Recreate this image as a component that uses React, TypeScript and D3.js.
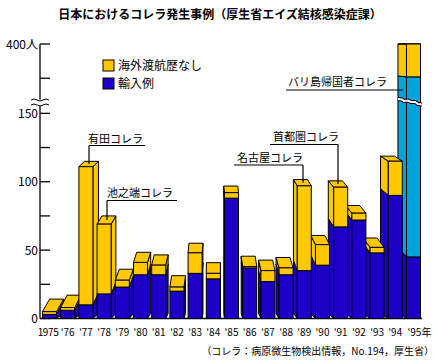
import React from 'react';
import * as d3 from 'd3';

const W = 439;
const H = 360;

// 年（横軸）
const years = [
  '1975', "'76", "'77", "'78", "'79", "'80", "'81", "'82", "'83", "'84",
  "'85", "'86", "'87", "'88", "'89", "'90", "'91", "'92", "'93", "'94", "'95",
];
// 輸入例
const imported = [3, 6, 10, 18, 23, 32, 32, 20, 33, 29, 88, 37, 27, 32, 35, 39, 67, 72, 48, 90, 45];
// バリ島帰国者
const baliReturn = [0, 0, 0, 0, 0, 0, 0, 0, 0, 0, 0, 0, 0, 0, 0, 0, 0, 0, 0, 0, 331];
// 海外渡航歴なし
const domestic = [2, 2, 101, 51, 5, 9, 7, 3, 15, 4, 4, 1, 8, 5, 62, 15, 29, 5, 4, 25, 24];

const yTicks = [0, 25, 50, 75, 100, 125, 150, 375, 400];
const yTickLabels: Record<number, string> = { 0: '0', 50: '50', 100: '100', 150: '150', 400: '400人' };

const legendItems = ['海外渡航歴なし', '輸入例'];

const notes = [
  { text: '有田コレラ', year: "'77" },
  { text: '池之端コレラ', year: "'78" },
  { text: '名古屋コレラ', year: "'89" },
  { text: '首都圏コレラ', year: "'91" },
  { text: 'バリ島帰国者コレラ', year: "'95" },
];

const YELLOW = '#ffc800';
const BLUE = '#1c00c8';
const LIGHT = '#00a4dc';
const FONT = "'Noto Sans CJK JP', 'Noto Sans', sans-serif";

// 擬似透視の消失点
const VPX = 215;
const VPY = 60;
const KX = 0.043;
const KY = 0.05;

export default function App() {
  const y = d3.scaleLinear().domain([0, 158, 358, 400]).range([318.5, 102.4, 101.5, 44]);
  const x = d3.scaleBand<string>().domain(years).range([40.5, 422.5]).paddingInner(0.23).paddingOuter(0.11);
  const bw = x.bandwidth();
  const base = y(0);

  const bars = years.map((yr, i) => {
    const x0 = x(yr)!;
    const x1 = x0 + bw;
    const cx = x0 + bw / 2;
    const dx = KX * (VPX - cx);
    const parts = [
      { v: imported[i], c: BLUE },
      { v: baliReturn[i], c: LIGHT },
      { v: domestic[i], c: YELLOW },
    ].filter(p => p.v > 0);
    let acc = 0;
    const segs = parts.map(p => {
      const s = { lo: acc, hi: acc + p.v, c: p.c };
      acc += p.v;
      return s;
    });
    return { yr, i, x0, x1, cx, dx, segs, total: acc };
  });

  const backY = (yy: number) => yy - Math.max(0, KY * (yy - VPY));
  const backBase = base - 5;

  // 外側から中央へ向かって描く
  const order = [
    ...bars.filter(b => b.cx < VPX),
    ...bars.filter(b => b.cx >= VPX).reverse(),
  ];

  const pts = (p: number[][]) => p.map(q => q.join(',')).join(' ');

  const barById = new Map(bars.map(b => [b.yr, b]));

  // 注記の配置
  const noteLayout: Record<string, { tx: number; ty: number; lx0: number; lx1: number; ly: number; vx: 'left' | 'right' }> = {
    '有田コレラ': { tx: 88, ty: 143, lx0: 89, lx1: 145, ly: 145.5, vx: 'left' },
    '池之端コレラ': { tx: 107, ty: 196.5, lx0: 107, lx1: 177, ly: 200.5, vx: 'left' },
    '名古屋コレラ': { tx: 237, ty: 162, lx0: 234, lx1: 303, ly: 165, vx: 'right' },
    '首都圏コレラ': { tx: 273, ty: 141, lx0: 270, lx1: 338, ly: 144.5, vx: 'right' },
    'バリ島帰国者コレラ': { tx: 288, ty: 86, lx0: 286, lx1: 403, ly: 90, vx: 'right' },
  };

  return (
    <svg width={W} height={H} style={{ position: 'absolute', left: 0, top: 0, background: '#fff' }} fontFamily={FONT}>
      <text x={220} y={18.5} textAnchor="middle" fontSize={12} fontWeight="bold">
        日本におけるコレラ発生事例（厚生省エイズ結核感染症課）
      </text>

      {/* 縦軸 */}
      <line x1={40} x2={40} y1={44} y2={base} stroke="#000" strokeWidth={1.3} />
      {yTicks.map(t => (
        <g key={t}>
          <line x1={40} x2={50} y1={y(t)} y2={y(t)} stroke="#000" strokeWidth={1.3} />
          {yTickLabels[t] && (
            <text x={38} y={y(t) + 4.5} textAnchor="end" fontSize={12}>
              {yTickLabels[t]}
            </text>
          )}
        </g>
      ))}
      <line x1={40} x2={422} y1={base} y2={base} stroke="#000" strokeWidth={1.5} />

      {/* 軸の省略記号 */}
      <rect x={33} y={99.5} width={15} height={6} fill="#fff" />
      <path d="M31,100 q3,-2 6,0 t6,0 t6,0" fill="none" stroke="#000" strokeWidth={1} />
      <path d="M31,105 q3,-2 6,0 t6,0 t6,0" fill="none" stroke="#000" strokeWidth={1} />

      {/* 棒 */}
      {order.map(b => {
        const leftSide = b.cx >= VPX;
        const sx = leftSide ? b.x0 : b.x1;
        const top = y(b.total);
        const topBack = backY(top);
        const topColor = b.segs[b.segs.length - 1].c;
        return (
          <g key={b.yr} stroke="#000" strokeWidth={1} strokeLinejoin="miter">
            {b.segs.map((s, k) => {
              const yb = y(s.lo);
              const yt = y(s.hi);
              const ybb = s.lo === 0 ? backBase : backY(yb);
              return (
                <polygon
                  key={'s' + k}
                  points={pts([[sx, yb], [sx, yt], [sx + b.dx, backY(yt)], [sx + b.dx, ybb]])}
                  fill={s.c}
                />
              );
            })}
            <polygon
              points={pts([[b.x0, top], [b.x1, top], [b.x1 + b.dx, topBack], [b.x0 + b.dx, topBack]])}
              fill={topColor}
            />
            {b.segs.map((s, k) => (
              <rect key={'f' + k} x={b.x0} y={y(s.hi)} width={b.x1 - b.x0} height={y(s.lo) - y(s.hi)} fill={s.c} />
            ))}
          </g>
        );
      })}

      {/* 棒の省略記号 */}
      <path d="M398,99 L402,99.5 L404,101 L408,100.5 L411,102 L415,102 L418,104 L422,104.5" fill="none" stroke="#000" strokeWidth={4} />
      <path d="M398,99 L402,99.5 L404,101 L408,100.5 L411,102 L415,102 L418,104 L422,104.5" fill="none" stroke="#fff" strokeWidth={2} />

      {/* 凡例 */}
      {legendItems.map((name, k) => (
        <g key={name}>
          <rect x={103} y={60 + k * 18} width={11} height={11} fill={k === 0 ? YELLOW : BLUE} stroke="#000" />
          <text x={118} y={70 + k * 18} fontSize={12}>
            {name}
          </text>
        </g>
      ))}

      {/* 注記 */}
      {notes.map(n => {
        const b = barById.get(n.year)!;
        const L = noteLayout[n.text];
        const top = y(b.total);
        const vEnd = (top + backY(top)) / 2;
        const showV = n.year !== "'95";
        const xv = L.vx === 'left' ? L.lx0 : L.lx1;
        return (
          <g key={n.text}>
            <text x={L.tx} y={L.ty} fontSize={11}>
              {n.text}
            </text>
            <line x1={L.lx0} x2={L.lx1} y1={L.ly} y2={L.ly} stroke="#000" strokeWidth={1.2} />
            {showV && <line x1={xv} x2={xv} y1={L.ly} y2={vEnd} stroke="#000" strokeWidth={1.2} />}
          </g>
        );
      })}

      {/* 年ラベル */}
      {years.map(yr => {
        const cx = x(yr)! + bw / 2;
        if (yr === "'95") {
          return (
            <text key={yr} x={cx - 6} y={335.5} fontSize={10}>
              {yr}年
            </text>
          );
        }
        return (
          <text
            key={yr}
            x={yr === '1975' ? cx - 1.5 : cx}
            y={335.5}
            textAnchor="middle"
            fontSize={10}
            letterSpacing={yr === '1975' ? -0.4 : 0}
          >
            {yr}
          </text>
        );
      })}

      <text x={434} y={355} textAnchor="end" fontSize={10}>
        （コレラ：病原微生物検出情報，No.194，厚生省）
      </text>
    </svg>
  );
}
